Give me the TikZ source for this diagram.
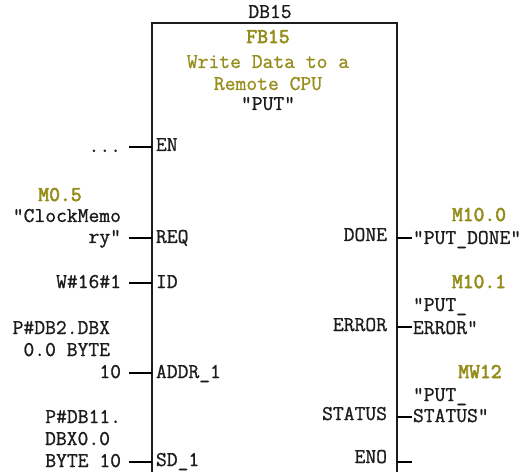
\documentclass[tikz,border=0pt]{standalone}
\usepackage{fontspec}
\setmainfont{Latin Modern Mono}[Ligatures=TeXOff, FakeBold=1]
\newfontfamily\addrfont{Latin Modern Mono}[Ligatures=TeXOff, FakeBold=3]
\definecolor{olivetxt}{RGB}{150,142,28}
\definecolor{ink}{RGB}{28,28,28}
\begin{document}
\begin{tikzpicture}[x=1bp,y=-1bp,
  every node/.style={inner sep=0pt, outer sep=0pt, text=ink, font=\fontsize{21bp}{22bp}\selectfont},
  le/.style={anchor=base east},
  lw/.style={anchor=base west},
  cb/.style={anchor=base},
  addr/.style={text=olivetxt, font=\addrfont\fontsize{21bp}{22bp}\selectfont},
  ttl/.style={text=olivetxt},
  pinline/.style={line width=2.8bp, draw=black},
  boxline/.style={line width=1.8bp, draw=ink}]
\useasboundingbox (0,0) rectangle (523,472);

% block outline
\coordinate (bl) at (152,472);
\coordinate (tl) at (152,23);
\coordinate (tr) at (397,23);
\coordinate (br) at (397,472);
\draw[boxline] (bl) -- (tl) -- (tr) -- (br);

% header
\node[cb] (db) at (270,18) {DB15};
\node[cb, addr] (fb) at (268,43) {FB15};
\node[cb, ttl] (t1) at (268,68) {Write Data to a};
\node[cb, ttl] (t2) at (268,90) {Remote CPU};
\node[cb] (t3) at (268,110) {"PUT"};

% left pins
\coordinate (enA) at (129,147); \coordinate (enB) at (152,147);
\coordinate (rqA) at (129,238); \coordinate (rqB) at (152,238);
\coordinate (idA) at (129,283); \coordinate (idB) at (152,283);
\coordinate (adA) at (129,373); \coordinate (adB) at (152,373);
\coordinate (sdA) at (129,462); \coordinate (sdB) at (152,462);
\draw[pinline] (enA) -- (enB);
\draw[pinline] (rqA) -- (rqB);
\draw[pinline] (idA) -- (idB);
\draw[pinline] (adA) -- (adB);
\draw[pinline] (sdA) -- (sdB);

\node[lw] (en) at (156,151) {EN};
\node[lw] (req) at (156,243) {REQ};
\node[lw] (id) at (156,288) {ID};
\node[lw] (addr) at (156,378) {ADDR\_1};
\node[lw] (sd) at (156,466) {SD\_1};

% left actual parameters
\node[le] (dots) at (121,152) {...};
\node[cb, addr] (m05) at (60,201) {M0.5};
\node[le] (cm1) at (121,222) {"ClockMemo};
\node[le] (cm2) at (121,243) {ry"};
\node[le] (w16) at (121,288) {W\#16\#1};
\node[le] (p1) at (110,334) {P\#DB2.DBX};
\node[le] (p2) at (110,356) {0.0 BYTE};
\node[le] (p3) at (121,378) {10};
\node[le] (q1) at (121,423) {P\#DB11.};
\node[le] (q2) at (110,445) {DBX0.0};
\node[le] (q3) at (121,467) {BYTE 10};

% right pins
\coordinate (dnA) at (397,238); \coordinate (dnB) at (412,238);
\coordinate (erA) at (397,327); \coordinate (erB) at (412,327);
\coordinate (stA) at (397,417); \coordinate (stB) at (412,417);
\coordinate (eoA) at (397,462); \coordinate (eoB) at (412,462);
\draw[pinline] (dnA) -- (dnB);
\draw[pinline] (erA) -- (erB);
\draw[pinline] (stA) -- (stB);
\draw[pinline] (eoA) -- (eoB);

\node[le] (done) at (387,241) {DONE};
\node[le] (error) at (387,331) {ERROR};
\node[le] (status) at (387,420) {STATUS};
\node[le] (eno) at (387,463) {ENO};

% right actual parameters
\node[cb, addr] (m100) at (479,221) {M10.0};
\node[lw] (pd) at (413,244) {"PUT\_DONE"};
\node[cb, addr] (m101) at (479,288) {M10.1};
\node[lw] (pe1) at (413,311) {"PUT\_};
\node[lw] (pe2) at (413,334) {ERROR"};
\node[cb, addr] (mw12) at (480,378) {MW12};
\node[lw] (ps1) at (413,401) {"PUT\_};
\node[lw] (ps2) at (413,422) {STATUS"};
\end{tikzpicture}
\end{document}
